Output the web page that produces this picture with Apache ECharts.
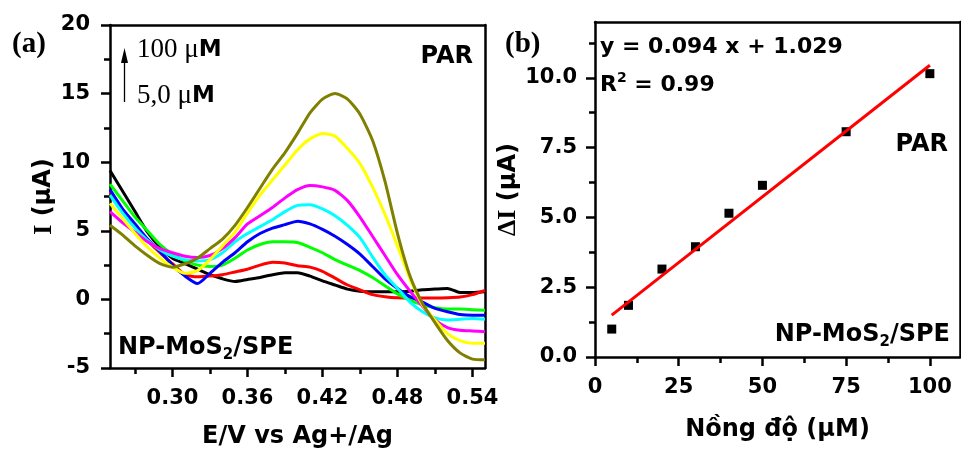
<!DOCTYPE html>
<html>
<head>
<meta charset="utf-8">
<script src="https://cdn.jsdelivr.net/npm/echarts@6/dist/echarts.min.js"></script>
<style>
  html, body { margin: 0; padding: 0; background: #fff; }
  #chart { width: 961px; height: 454px; }
</style>
</head>
<body>
<div id="chart"></div>
<script>
// ---------- Panel (a): DPV curves ----------
const potential = [0.25, 0.26, 0.27, 0.28, 0.29, 0.30, 0.31, 0.32, 0.33, 0.34, 0.35, 0.36, 0.37, 0.38, 0.39, 0.40,
                   0.41, 0.42, 0.43, 0.44, 0.45, 0.46, 0.47, 0.48, 0.49, 0.50, 0.51, 0.52, 0.53, 0.54, 0.55];
const curveBlack   = [9.4, 7.9, 6.4, 4.9, 3.8, 3.0, 2.6, 2.2, 1.8, 1.5, 1.3, 1.45, 1.6, 1.8, 1.95, 1.95,
                      1.7, 1.35, 1.05, 0.75, 0.6, 0.55, 0.55, 0.55, 0.6, 0.7, 0.75, 0.8, 0.5, 0.5, 0.55];
const curveRed     = [7.8, 6.5, 5.3, 4.3, 3.4, 2.6, 1.8, 1.65, 1.7, 1.8, 2.0, 2.2, 2.5, 2.7, 2.65, 2.45,
                      2.35, 2.05, 1.55, 1.05, 0.7, 0.35, 0.2, 0.12, 0.1, 0.1, 0.1, 0.12, 0.17, 0.35, 0.65];
const curveGreen   = [8.4, 7.2, 6.0, 5.0, 4.0, 3.3, 2.8, 2.5, 2.4, 2.5, 3.0, 3.6, 4.0, 4.2, 4.2, 4.15,
                      3.8, 3.4, 2.9, 2.5, 2.1, 1.6, 1.0, 0.4, -0.05, -0.4, -0.6, -0.7, -0.7, -0.75, -0.8];
const curveBlue    = [8.0, 6.6, 5.5, 4.4, 3.5, 2.5, 1.7, 1.15, 1.9, 2.7, 3.4, 4.2, 4.8, 5.2, 5.45, 5.7,
                      5.5, 5.1, 4.6, 4.0, 3.3, 2.4, 1.5, 0.8, 0.2, -0.2, -0.65, -0.9, -1.1, -1.15, -1.15];
const curveCyan    = [7.6, 6.3, 5.2, 4.3, 3.6, 3.15, 2.9, 2.8, 2.9, 3.4, 4.2, 4.8, 5.3, 5.8, 6.4, 6.85,
                      6.9, 6.6, 6.1, 5.4, 4.5, 3.1, 1.8, 0.8, -0.2, -0.9, -1.35, -1.5, -1.45, -1.4, -1.45];
const curveMagenta = [6.4, 5.6, 4.9, 4.2, 3.7, 3.4, 3.15, 3.05, 3.2, 3.7, 4.5, 5.5, 6.1, 6.7, 7.4, 8.0,
                      8.3, 8.2, 7.95, 7.2, 6.0, 4.6, 3.2, 1.8, 0.6, -0.5, -1.5, -2.05, -2.25, -2.3, -2.35];
const curveYellow  = [7.0, 5.9, 4.8, 3.8, 3.0, 2.35, 1.9, 2.1, 2.9, 3.9, 4.9, 6.3, 7.6, 8.7, 9.8, 10.9,
                      11.7, 12.1, 11.9, 11.0, 9.9, 8.2, 6.2, 3.9, 1.5, -0.4, -1.5, -2.5, -3.0, -3.2, -3.2];
const curveOlive   = [5.4, 4.7, 3.9, 3.2, 2.6, 2.35, 2.6, 3.0, 3.7, 4.4, 5.4, 6.7, 8.1, 9.5, 10.7, 12.1,
                      13.6, 14.6, 15.0, 14.6, 13.5, 11.6, 8.6, 4.8, 1.7, -0.3, -1.7, -3.0, -3.9, -4.35, -4.4];
const curveColors  = ['#000000', '#ff0000', '#00ff00', '#0000ff', '#00ffff', '#ff00ff', '#ffff00', '#808000'];

const xTicksA = [0.30, 0.36, 0.42, 0.48, 0.54];
const xMinorA = [0.27, 0.33, 0.39, 0.45, 0.51];
const yTicksA = [-5, 0, 5, 10, 15, 20];
const yMinorA = [-2.5, 2.5, 7.5, 12.5, 17.5];

// ---------- Panel (b): calibration ----------
const concentration = [5, 10, 20, 30, 40, 50, 75, 100];
const deltaI        = [1.0, 1.85, 3.15, 3.95, 5.15, 6.15, 8.07, 10.15];
const fitX = [5, 100];
const fitY = [1.5, 10.45];

const xTicksB = [0, 25, 50, 75, 100];
const xMinorB = [12.5, 37.5, 62.5, 87.5];
const yTicksB = [0, 2.5, 5, 7.5, 10];
const yMinorB = [1.25, 3.75, 6.25, 8.75, 11.25];

// ---------- build ----------
const SANS = '"DejaVu Sans", sans-serif';
const SERIF = '"Liberation Serif", "DejaVu Serif", serif';
const zip = (xs, ys) => xs.map((x, i) => [x, ys[i]]);

const curves = [curveBlack, curveRed, curveGreen, curveBlue, curveCyan, curveMagenta, curveYellow, curveOlive];

const AXIS_LINE = { show: true, onZero: false, lineStyle: { color: '#000', width: 2.5 } };
const labelFont = { color: '#000', fontFamily: SANS, fontWeight: 'bold', fontSize: 21 };
const titleText = { color: '#000', fontFamily: SANS, fontWeight: 'bold', fontSize: 24 };

function majorAxis(gridIndex, position, min, max, ticks, extra) {
  return Object.assign({
    type: 'value', gridIndex, position, min, max,
    splitLine: { show: false },
    axisLine: AXIS_LINE,
    axisTick: { show: true, inside: false, length: 9, customValues: ticks, lineStyle: { color: '#000', width: 2.5 } }
  }, extra);
}
function minorAxis(gridIndex, position, min, max, ticks) {
  return {
    type: 'value', gridIndex, position, min, max, offset: 0,
    splitLine: { show: false },
    axisLine: { show: false, onZero: false },
    axisLabel: { show: false },
    axisTick: { show: true, inside: false, length: 6, customValues: ticks, lineStyle: { color: '#000', width: 2.5 } }
  };
}
function frameAxis(gridIndex, position, min, max) {
  return {
    type: 'value', gridIndex, position, min, max, offset: 0,
    splitLine: { show: false },
    axisLine: AXIS_LINE,
    axisLabel: { show: false },
    axisTick: { show: false }
  };
}

const option = {
  animation: false,
  backgroundColor: '#fff',
  grid: [
    { left: 110, top: 25, width: 375, height: 343 },
    { left: 595, top: 22, width: 365, height: 335 }
  ],
  xAxis: [
    majorAxis(0, 'bottom', 0.25, 0.55, xTicksA, {
      axisLabel: Object.assign({ customValues: xTicksA, formatter: v => Number(v).toFixed(2), margin: 20 }, labelFont),
      name: 'E/V vs Ag+/Ag', nameLocation: 'middle', nameGap: 57, nameTextStyle: titleText
    }),
    minorAxis(0, 'bottom', 0.25, 0.55, xMinorA),
    majorAxis(1, 'bottom', 0, 109, xTicksB, {
      axisLabel: Object.assign({ customValues: xTicksB, margin: 20 }, labelFont),
      name: 'Nồng độ (μM)', nameLocation: 'middle', nameGap: 61, nameTextStyle: titleText
    }),
    minorAxis(1, 'bottom', 0, 109, xMinorB),
    frameAxis(0, 'top', 0.25, 0.55),
    frameAxis(1, 'top', 0, 109)
  ],
  yAxis: [
    majorAxis(0, 'left', -5, 20, yTicksA, {
      axisLabel: Object.assign({ customValues: yTicksA, margin: 20 }, labelFont),
      name: '{s|I} (μA)', nameLocation: 'middle', nameGap: 46, nameRotate: 90,
      nameTextStyle: Object.assign({}, titleText, {
        rich: { s: { fontFamily: SERIF, fontWeight: 'bold', fontSize: 26, color: '#000' } }
      })
    }),
    minorAxis(0, 'left', -5, 20, yMinorA),
    majorAxis(1, 'left', 0, 12, yTicksB, {
      axisLabel: Object.assign({ customValues: yTicksB, formatter: v => Number(v).toFixed(1), margin: 18 }, labelFont),
      name: '{s|ΔI} (μA)', nameLocation: 'middle', nameGap: 63, nameRotate: 90,
      nameTextStyle: Object.assign({}, titleText, {
        rich: { s: { fontFamily: SERIF, fontWeight: 'bold', fontSize: 26, color: '#000' } }
      })
    }),
    minorAxis(1, 'left', 0, 12, yMinorB),
    frameAxis(0, 'right', -5, 20),
    frameAxis(1, 'right', 0, 12)
  ],
  series: curves.map((c, i) => ({
    type: 'line', xAxisIndex: 0, yAxisIndex: 0,
    data: zip(potential, c),
    showSymbol: false, smooth: 0.2,
    lineStyle: { color: curveColors[i], width: 3 },
    itemStyle: { color: curveColors[i] },
    z: 2 + i
  })).concat([
    {
      type: 'scatter', xAxisIndex: 2, yAxisIndex: 2,
      data: zip(concentration, deltaI),
      symbol: 'rect', symbolSize: 9,
      itemStyle: { color: '#000', opacity: 1 }, z: 3
    },
    {
      type: 'line', xAxisIndex: 2, yAxisIndex: 2,
      data: zip(fitX, fitY),
      showSymbol: false,
      lineStyle: { color: '#ff0000', width: 3 }, z: 4
    }
  ]),
  graphic: [
    { type: 'text', x: 12, y: 45, style: { text: '(a)', fill: '#000', font: 'bold 29px ' + SERIF, verticalAlign: 'middle' } },
    { type: 'text', x: 137, y: 50, style: {
        text: '{t|100 μ}{m|M}', verticalAlign: 'middle',
        rich: { t: { fontFamily: SERIF, fontSize: 27, fill: '#000', color: '#000' },
                m: { fontFamily: SANS, fontWeight: 'bold', fontSize: 23, fill: '#000', color: '#000' } } } },
    { type: 'text', x: 137, y: 96, style: {
        text: '{t|5,0 μ}{m|M}', verticalAlign: 'middle',
        rich: { t: { fontFamily: SERIF, fontSize: 27, fill: '#000', color: '#000' },
                m: { fontFamily: SANS, fontWeight: 'bold', fontSize: 23, fill: '#000', color: '#000' } } } },
    { type: 'line', shape: { x1: 124.5, y1: 62, x2: 124.5, y2: 102 }, style: { stroke: '#000', lineWidth: 1.3 } },
    { type: 'polygon', shape: { points: [[121, 63], [124.5, 48], [128, 63]] }, style: { fill: '#000' } },
    { type: 'text', x: 473, y: 57, style: { text: 'PAR', fill: '#000', font: 'bold 24px ' + SANS, align: 'right', verticalAlign: 'middle' } },
    { type: 'text', x: 118, y: 348, style: {
        text: '{b|NP-MoS}{s|2}{b|/SPE}', verticalAlign: 'middle',
        rich: { b: { fontFamily: SANS, fontWeight: 'bold', fontSize: 24, color: '#000' },
                s: { fontFamily: SANS, fontWeight: 'bold', fontSize: 15, color: '#000', padding: [14, 0, 0, 0] } } } },

    { type: 'text', x: 505, y: 45, style: { text: '(b)', fill: '#000', font: 'bold 29px ' + SERIF, verticalAlign: 'middle' } },
    { type: 'text', x: 600, y: 47, style: { text: 'y = 0.094 x + 1.029', fill: '#000', font: 'bold 22px ' + SANS, verticalAlign: 'middle' } },
    { type: 'text', x: 600, y: 85, style: {
        text: '{b|R}{s|2}{b| = 0.99}', verticalAlign: 'middle',
        rich: { b: { fontFamily: SANS, fontWeight: 'bold', fontSize: 22, color: '#000' },
                s: { fontFamily: SANS, fontWeight: 'bold', fontSize: 14, color: '#000', padding: [0, 0, 14, 0] } } } },
    { type: 'text', x: 948, y: 145, style: { text: 'PAR', fill: '#000', font: 'bold 24px ' + SANS, align: 'right', verticalAlign: 'middle' } },
    { type: 'text', x: 950, y: 335, style: {
        text: '{b|NP-MoS}{s|2}{b|/SPE}', align: 'right', verticalAlign: 'middle',
        rich: { b: { fontFamily: SANS, fontWeight: 'bold', fontSize: 24, color: '#000' },
                s: { fontFamily: SANS, fontWeight: 'bold', fontSize: 15, color: '#000', padding: [14, 0, 0, 0] } } } }
  ]
};

const chart = echarts.init(document.getElementById('chart'), null, { renderer: 'canvas' });
chart.setOption(option);
</script>
</body>
</html>
